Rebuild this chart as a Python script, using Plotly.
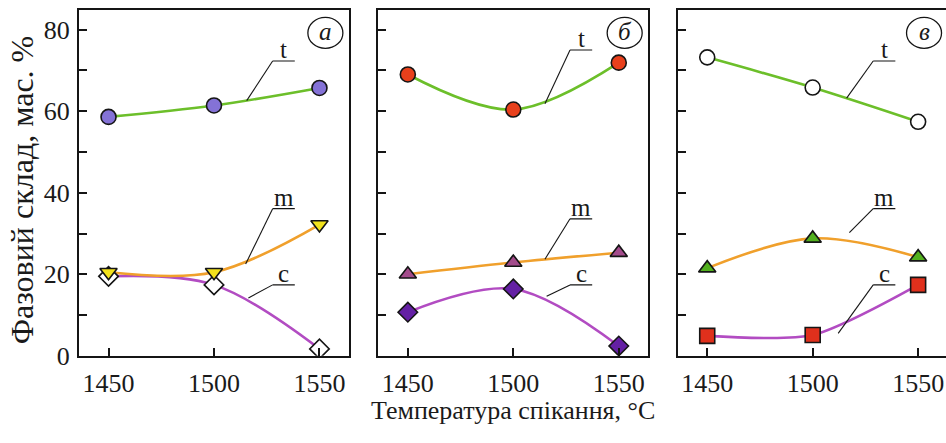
import plotly.graph_objects as go

# Sintering temperature, °C
temps = [1450, 1500, 1550]

# Phase composition, wt. % (t = tetragonal, m = monoclinic, c = cubic)
t_a = [58.6, 61.4, 65.7]
m_a = [20.5, 20.5, 32.2]
c_a = [19.5, 17.4, 1.7]

t_b = [69.0, 60.4, 71.9]
m_b = [20.0, 22.9, 25.3]
c_b = [10.7, 16.4, 2.4]

t_v = [73.2, 65.8, 57.4]
m_v = [21.5, 28.8, 24.2]
c_v = [4.9, 5.1, 17.4]

panel_letters = ["а", "б", "в"]
y_tickvals = [0, 10, 20, 30, 40, 50, 60, 70, 80]
y_ticktext = ["0", "", "20", "", "40", "", "60", "", "80"]
x_title = "Температура спікання, °C"
y_title = "Фазовий склад, мас. %"

W, H = 946, 443
FONT = "Liberation Serif"
INK = "#1a1a1a"
LINE_T, LINE_M, LINE_C = "#6cbf2a", "#f0a02c", "#b24cc2"

panels = [
    dict(t=t_a, m=m_a, c=c_a,
         t_mk=dict(symbol="circle", color="#8472d6"),
         m_mk=dict(symbol="triangle-down", color="#f2e21c"),
         c_mk=dict(symbol="diamond", color="#ffffff"),
         px=(79, 349), xr=(1436, 1564),
         labels=dict(t=(1527.8, 72.3, 1515.5, 62.6),
                     m=(1527.8, 36.1, 1515.0, 22.5),
                     c=(1527.8, 17.4, 1516.3, 14.2))),
    dict(t=t_b, m=m_b, c=c_b,
         t_mk=dict(symbol="circle", color="#e8401c"),
         m_mk=dict(symbol="triangle-up", color="#a44c8c"),
         c_mk=dict(symbol="diamond", color="#6420a4"),
         px=(378.3, 648.3), xr=(1436, 1564),
         labels=dict(t=(1526.9, 75.0, 1515.0, 61.8),
                     m=(1526.9, 33.6, 1515.0, 23.7),
                     c=(1526.9, 17.4, 1515.8, 14.6))),
    dict(t=t_v, m=m_v, c=c_v,
         t_mk=dict(symbol="circle", color="#ffffff"),
         m_mk=dict(symbol="triangle-up", color="#52b01e"),
         c_mk=dict(symbol="square", color="#e0301c"),
         px=(677.7, 946), xr=(1436, 1436 + (946 - 677.7) / 2.109),
         labels=dict(t=(1528.7, 72.3, 1516.1, 63.2),
                     m=(1528.7, 36.1, 1517.4, 30.2),
                     c=(1528.7, 17.4, 1512.1, 5.5))),
]

Y_TOP, Y_BOT = 10, 368.3
YR = (0, 84.9)

fig = go.Figure()
shapes = []
annotations = []
axes = {}

for i, p in enumerate(panels):
    k = "" if i == 0 else str(i + 1)
    xa, ya = "x" + k, "y" + k
    # fitted curves first, markers on top
    for key, col in (("c", LINE_C), ("m", LINE_M), ("t", LINE_T)):
        fig.add_trace(go.Scatter(
            x=temps, y=p[key], mode="lines", xaxis=xa, yaxis=ya,
            line=dict(color=col, width=2.6, shape="spline",
                      smoothing=(0.7 if (i == 2 and key == "c") else 1.0)),
            hoverinfo="skip", showlegend=False))
    for key in ("c", "m", "t"):
        mk = p[key + "_mk"]
        fig.add_trace(go.Scatter(
            x=temps, y=p[key], mode="markers", xaxis=xa, yaxis=ya,
            marker=dict(symbol=mk["symbol"], color=mk["color"], size=15,
                        line=dict(color="#151515", width=1.6)),
            showlegend=False))

    last = i == 2
    axes["xaxis" + k] = dict(
        domain=[p["px"][0] / W, p["px"][1] / W], range=list(p["xr"]),
        anchor=ya, tickvals=temps, ticks="inside", ticklen=8, tickwidth=1.5,
        tickcolor="#151515", showline=True, linewidth=2, linecolor="#151515",
        mirror=True, showgrid=False, zeroline=False)
    axes["yaxis" + k] = dict(
        domain=[1 - Y_BOT / H, 1 - Y_TOP / H], range=list(YR), anchor=xa,
        tickvals=y_tickvals, ticktext=y_ticktext, showticklabels=(i == 0),
        ticks="inside", ticklen=8, tickwidth=1.5, tickcolor="#151515",
        showline=True, linewidth=2, linecolor="#151515",
        mirror=(not last), showgrid=False, zeroline=False)

    # curve labels with underline and leader line
    for name, (ux, uy, lx, ly) in p["labels"].items():
        shapes.append(dict(type="line", xref=xa, yref=ya, x0=ux, y0=uy,
                           x1=ux + 10.5, y1=uy, line=dict(color="#151515", width=1.1)))
        shapes.append(dict(type="line", xref=xa, yref=ya, x0=ux, y0=uy,
                           x1=lx, y1=ly, line=dict(color="#151515", width=1.1)))
        annotations.append(dict(x=ux + 5.3, y=uy, xref=xa, yref=ya, text=name,
                                showarrow=False, xanchor="center", yanchor="bottom",
                                yshift=-4, font=dict(family=FONT, size=25, color=INK)))

    # circled panel letter
    cx, cy = 1552.8, 79.2
    shapes.append(dict(type="circle", xref=xa, yref=ya,
                       x0=cx - 8.3, x1=cx + 8.3, y0=cy - 3.8, y1=cy + 3.8,
                       line=dict(color="#151515", width=1.3)))
    annotations.append(dict(x=cx, y=cy, xref=xa, yref=ya, text=panel_letters[i],
                            showarrow=False, xanchor="center", yanchor="middle",
                            yshift=1,
                            font=dict(family=FONT, size=25, color=INK,
                                      style="italic")))

annotations.append(dict(x=22 / W, y=1 - 197 / H, xref="paper", yref="paper",
                        text=y_title, textangle=-90, showarrow=False,
                        xanchor="center", yanchor="middle",
                        font=dict(family=FONT, size=32, color=INK)))
annotations.append(dict(x=513 / W, y=1 - 425 / H, xref="paper", yref="paper",
                        text=x_title, showarrow=False,
                        xanchor="center", yanchor="middle",
                        font=dict(family=FONT, size=26, color=INK)))

fig.update_layout(
    width=W, height=H, margin=dict(l=0, r=0, t=0, b=0),
    font=dict(family=FONT, size=26, color=INK),
    paper_bgcolor="white", plot_bgcolor="white",
    shapes=shapes, annotations=annotations, showlegend=False, **axes)

tick_font = dict(family=FONT, size=26, color=INK)
fig.update_xaxes(tickfont=tick_font, ticklabelstandoff=3)
fig.update_yaxes(tickfont=tick_font, ticklabelstandoff=2)

fig.write_html("out.html")
